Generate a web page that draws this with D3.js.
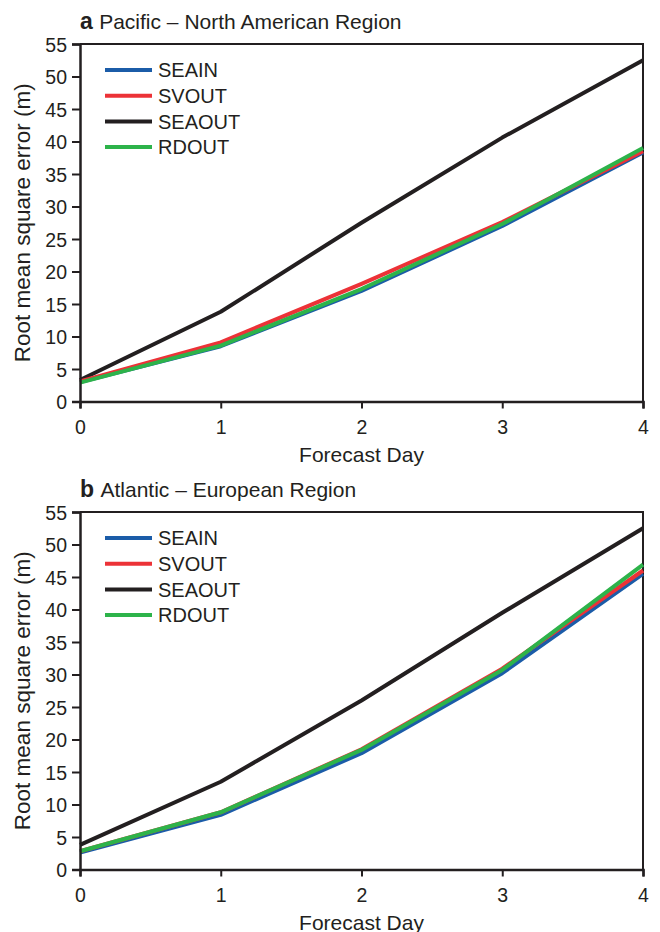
<html>
<head>
<script src="https://cdnjs.cloudflare.com/ajax/libs/d3/7.8.5/d3.min.js"></script>
<style>
  body { margin: 0; background: #fff; }
  svg { font-family: "Liberation Sans", Arial, sans-serif; }
  .tick text { font-size: 19.5px; fill: #231f20; }
</style>
</head>
<body>
<script>
// forecast days on the x axis
var days = [0, 1, 2, 3, 4];
var yTicks = [0, 5, 10, 15, 20, 25, 30, 35, 40, 45, 50, 55];
var seriesNames = ["SEAIN", "SVOUT", "SEAOUT", "RDOUT"];
var seriesColors = ["#1b5ca8", "#ec3237", "#231f20", "#2db34a"];

// panel a: Pacific - North American Region
var pnaSEAIN = [3.0, 8.5, 17.0, 27.0, 38.3];
var pnaSVOUT = [3.1, 9.1, 18.1, 27.6, 38.5];
var pnaSEAOUT = [3.3, 13.8, 27.5, 40.6, 52.5];
var pnaRDOUT = [2.9, 8.6, 17.3, 27.3, 39.0];

// panel b: Atlantic - European Region
var aeSEAIN = [2.6, 8.4, 17.9, 30.2, 45.5];
var aeSVOUT = [2.8, 8.8, 18.5, 30.9, 46.0];
var aeSEAOUT = [3.8, 13.5, 26.0, 39.5, 52.5];
var aeRDOUT = [2.8, 8.8, 18.4, 30.7, 46.9];

var panels = [
  { letter: "a", title: "Pacific \u2013 North American Region", top: 44,
    values: [pnaSEAIN, pnaSVOUT, pnaSEAOUT, pnaRDOUT] },
  { letter: "b", title: "Atlantic \u2013 European Region", top: 512,
    values: [aeSEAIN, aeSVOUT, aeSEAOUT, aeRDOUT] }
];

var svg = d3.select("body").append("svg")
  .attr("width", 660).attr("height", 932);

var left = 80, right = 643, plotH = 357.5;
var x = d3.scaleLinear().domain([0, 4]).range([left, right]);

// draw order: black under, green on top
var drawOrder = [2, 0, 1, 3];

panels.forEach(function (p) {
  var y = d3.scaleLinear().domain([0, 55]).range([p.top + plotH, p.top]);
  var g = svg.append("g");

  // frame top & right
  g.append("path")
    .attr("d", "M" + left + "," + p.top + "H" + right + "V" + (p.top + plotH))
    .attr("fill", "none").attr("stroke", "#231f20").attr("stroke-width", 2);

  var line = d3.line().x(function (d, i) { return x(days[i]); }).y(function (d) { return y(d); });

  drawOrder.forEach(function (k) {
    g.append("path")
      .datum(p.values[k])
      .attr("d", line)
      .attr("fill", "none")
      .attr("stroke", seriesColors[k])
      .attr("stroke-width", 4)
      .attr("stroke-linejoin", "round");
  });

  var xAxis = g.append("g")
    .attr("transform", "translate(0," + (p.top + plotH) + ")")
    .call(d3.axisBottom(x).tickValues(days).tickFormat(d3.format("d")).tickSize(7).tickPadding(12));
  var yAxis = g.append("g")
    .attr("transform", "translate(" + left + ",0)")
    .call(d3.axisLeft(y).tickValues(yTicks).tickSize(8).tickPadding(5));
  [xAxis, yAxis].forEach(function (a) {
    a.select(".domain").attr("stroke", "#231f20").attr("stroke-width", 2.5);
    a.selectAll(".tick line").attr("stroke", "#231f20").attr("stroke-width", 2);
  });
  yAxis.selectAll(".tick text").attr("dy", "0.36em");

  // titles
  var t = g.append("text").attr("x", 80).attr("y", p.top - 15)
    .attr("font-size", 21).attr("fill", "#231f20");
  t.append("tspan").attr("font-weight", "bold").attr("font-size", 23).text(p.letter + " ");
  t.append("tspan").text(p.title);

  g.append("text")
    .attr("x", (left + right) / 2).attr("y", p.top + plotH + 60)
    .attr("text-anchor", "middle").attr("font-size", 21).attr("fill", "#231f20")
    .text("Forecast Day");

  g.append("text")
    .attr("transform", "translate(30," + (p.top + plotH / 2) + ") rotate(-90)")
    .attr("text-anchor", "middle").attr("font-size", 22.5).attr("fill", "#231f20")
    .text("Root mean square error (m)");

  // legend
  seriesNames.forEach(function (name, i) {
    var ly = p.top + 26 + i * 25.7;
    g.append("line").attr("x1", 105).attr("x2", 152).attr("y1", ly).attr("y2", ly)
      .attr("stroke", seriesColors[i]).attr("stroke-width", 4);
    g.append("text").attr("x", 158).attr("y", ly).attr("dy", "0.36em")
      .attr("font-size", 20).attr("fill", "#231f20").text(name);
  });
});
</script>
</body>
</html>
